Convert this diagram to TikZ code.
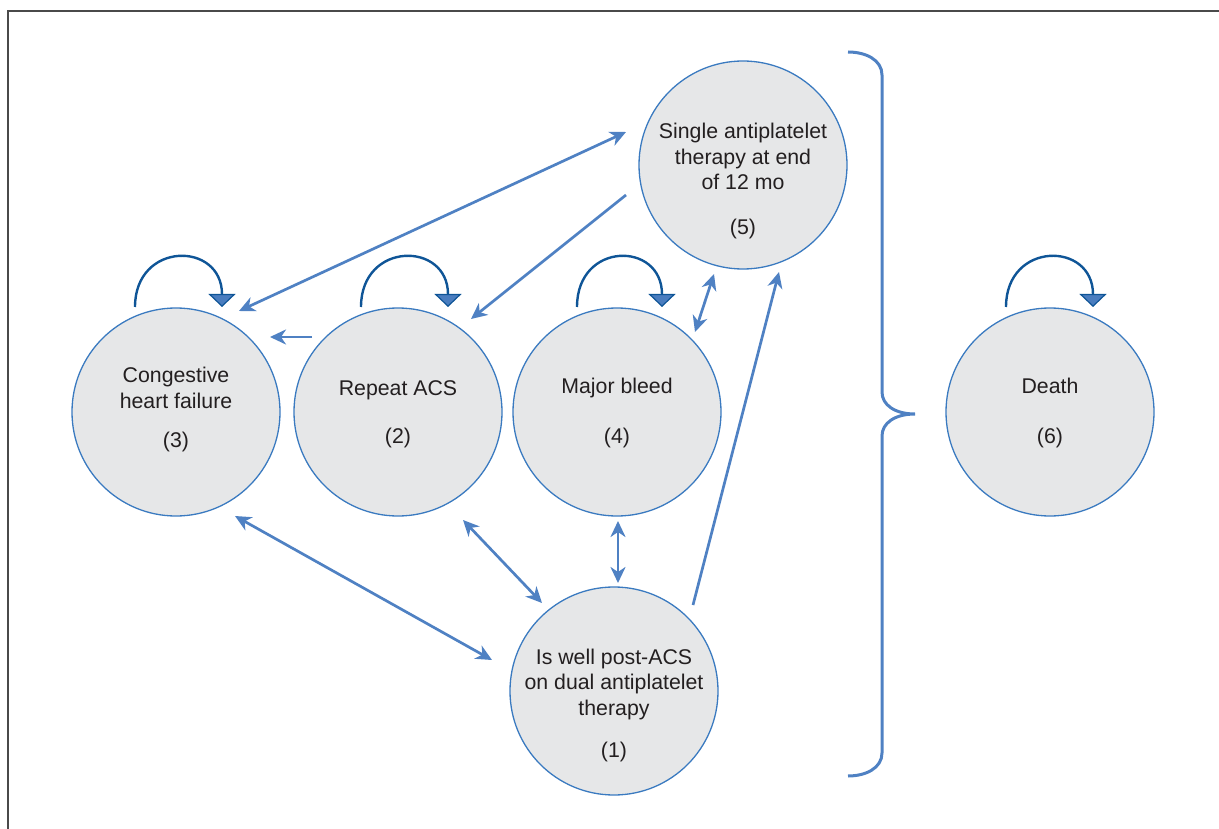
\documentclass[tikz,border=0pt]{standalone}
\usepackage{fontspec}
\setmainfont{Liberation Sans}
\usetikzlibrary{arrows.meta,calc}
\definecolor{circfill}{HTML}{E6E7E8}
\definecolor{circline}{HTML}{3A7AC0}
\definecolor{arrblue}{HTML}{4F81C3}
\definecolor{loopblue}{HTML}{0F5597}
\definecolor{trifill}{HTML}{4A7DBF}
\definecolor{framegray}{HTML}{4A4A4A}
\definecolor{txt}{HTML}{231F20}
\begin{document}
\begin{tikzpicture}[x=1pt,y=-1pt,
  state/.style={circle, draw=circline, fill=circfill, line width=1.3pt, minimum size=208pt, inner sep=0pt},
  lbl/.style={anchor=base, align=center, text=txt, font=\fontsize{21.3}{25.5}\selectfont, inner sep=0pt},
  conn/.style={draw=arrblue, line width=2.7pt},
  dbl/.style={conn, {Stealth[length=16pt,width=15pt,inset=5pt]}-{Stealth[length=16pt,width=15pt,inset=5pt]}},
  sgl/.style={conn, -{Stealth[length=16pt,width=15pt,inset=5pt]}},
  selfloop/.style={draw=loopblue, line width=2.4pt, -{Triangle[width=27pt,length=13pt,fill=trifill,line width=1.2pt]}}
]
\useasboundingbox (0,0) rectangle (1219,829);
\draw[framegray, line width=2pt] (1219,11) -- (8,11) -- (8,829);

\node[state] (n3) at (176,412) {};
\node[state] (n2) at (398,412) {};
\node[state] (n4) at (617,412) {};
\node[state] (n6) at (1050,412) {};
\node[state] (n5) at (743,165) {};
\node[state] (n1) at (614,691) {};

\node[lbl] (t3) at (176,408) {Congestive\\heart failure};
\node[lbl] (k3) at (176,447) {(3)};
\node[lbl] (t2) at (398,395) {Repeat ACS};
\node[lbl] (k2) at (398,443) {(2)};
\node[lbl] (t4) at (617,393) {Major bleed};
\node[lbl] (k4) at (617,443) {(4)};
\node[lbl] (t6) at (1050,393) {Death};
\node[lbl] (k6) at (1050,443) {(6)};
\node[lbl] (t5) at (743,190) {Single antiplatelet\\therapy at end\\of 12 mo};
\node[lbl] (k5) at (743,235) {(5)};
\node[lbl] (t1) at (614,715) {Is well post-ACS\\on dual antiplatelet\\therapy};
\node[lbl] (k1) at (614,757) {(1)};

% self loops
\draw[selfloop] ($(n3)+(-41,-105)$) .. controls ($(n3)+(-41,-171)$) and ($(n3)+(46,-171)$) .. ($(n3)+(46,-105)$);
\draw[selfloop] ($(n2)+(-37,-105)$) .. controls ($(n2)+(-37,-171)$) and ($(n2)+(50,-171)$) .. ($(n2)+(50,-105)$);
\draw[selfloop] ($(n4)+(-40,-105)$) .. controls ($(n4)+(-40,-171)$) and ($(n4)+(45,-171)$) .. ($(n4)+(45,-105)$);
\draw[selfloop] ($(n6)+(-44,-105)$) .. controls ($(n6)+(-44,-171)$) and ($(n6)+(43,-171)$) .. ($(n6)+(43,-105)$);

% connectors
\draw[dbl] ($(n5)+(-117,-33)$) -- ($(n3)+(63,-101)$);
\draw[sgl] ($(n5)+(-117,30)$) -- ($(n2)+(73,-93)$);
\draw[sgl] ($(n2)+(-86,-75)$) -- ($(n3)+(94,-75)$);
\draw[dbl] ($(n5)+(-29,109)$) -- ($(n4)+(78,-80)$);
\draw[sgl] ($(n1)+(79,-86)$) -- ($(n5)+(36,107)$);
\draw[dbl] ($(n2)+(65,108)$) -- ($(n1)+(-72,-88)$);
\draw[dbl] ($(n4)+(1,109)$) -- ($(n1)+(4,-108)$);
\draw[dbl] ($(n3)+(59,104)$) -- ($(n1)+(-122,-31)$);

% brace
\draw[arrblue, line width=3pt] (848,52) .. controls (866,52) and (882,60) .. (882,75) -- (882,392)
  .. controls (882,405) and (895,414) .. (915,414)
  .. controls (895,414) and (882,423) .. (882,436) -- (882,753)
  .. controls (882,768) and (866,776) .. (848,776);
\end{tikzpicture}
\end{document}
